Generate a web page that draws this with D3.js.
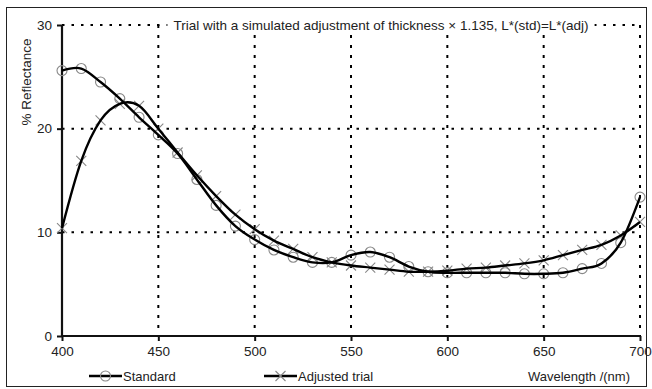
<!DOCTYPE html>
<html>
<head>
<meta charset="utf-8">
<script src="https://cdn.jsdelivr.net/npm/d3@7"></script>
<style>
  html, body { margin: 0; padding: 0; background: #fff; }
  svg { display: block; }
  text { font-family: "Liberation Sans", Arial, sans-serif; fill: #222; }
</style>
</head>
<body>
<svg id="chart" width="652" height="389"></svg>
<script>
const wavelengths = [400,410,420,430,440,450,460,470,480,490,500,510,520,530,540,550,560,570,580,590,600,610,620,630,640,650,660,670,680,690,700];
const standard = [25.6,25.8,24.5,22.9,21.1,19.4,17.6,15.1,12.6,10.6,9.3,8.3,7.6,7.1,7.1,7.8,8.1,7.6,6.7,6.2,6.1,6.1,6.1,6.1,6.0,6.0,6.1,6.5,7.0,9.0,13.4];
const adjusted = [10.4,16.9,20.8,22.4,22.2,20.0,17.7,15.5,13.5,11.7,10.3,9.2,8.4,7.6,7.1,6.8,6.6,6.4,6.2,6.2,6.3,6.5,6.6,6.8,7.0,7.3,7.8,8.3,8.8,9.7,11.0];
const xTicks = [400,450,500,550,600,650,700];
const yTicks = [0,10,20,30];
const seriesNames = ["Standard","Adjusted trial"];
const titleText = "Trial with a simulated adjustment of thickness \u00d7 1.135, L*(std)=L*(adj)";
const xTitle = "Wavelength /(nm)";
const yTitle = "% Reflectance";

const svg = d3.select("#chart");
const x = d3.scaleLinear().domain([400,700]).range([62,640]);
const y = d3.scaleLinear().domain([0,30]).range([336,25]);

// frame
svg.append("rect").attr("x",6.5).attr("y",7.5).attr("width",640).attr("height",379)
  .attr("fill","none").attr("stroke","#222").attr("stroke-width",1);

// grid
const grid = svg.append("g");
grid.selectAll(".hg").data(yTicks.filter(d=>d>0)).enter().append("line")
  .attr("x1",x(400)).attr("x2",x(700)).attr("y1",d=>y(d)).attr("y2",d=>y(d))
  .attr("stroke","#000").attr("stroke-width",2).attr("stroke-dasharray","2.5,7");
grid.selectAll(".vg").data(xTicks.filter(d=>d>400)).enter().append("line")
  .attr("x1",d=>x(d)).attr("x2",d=>x(d)).attr("y1",y(30)).attr("y2",y(0))
  .attr("stroke","#000").attr("stroke-width",2).attr("stroke-dasharray","3,7");

// title with white background
const tg = svg.append("g");
const tt = tg.append("text").attr("x",381).attr("y",29.5).attr("text-anchor","middle")
  .attr("font-size",13.5).text(titleText);
const bb = tt.node().getBBox();
tg.insert("rect","text").attr("x",bb.x-6).attr("y",bb.y-2).attr("width",bb.width+12).attr("height",bb.height+4).attr("fill","#fff");

// axes
const yAxis = svg.append("g").attr("transform",`translate(${x(400)},0)`)
  .call(d3.axisLeft(y).tickValues(yTicks).tickSize(5).tickPadding(5).tickFormat(d3.format("d")));
const xAxis = svg.append("g").attr("transform",`translate(0,${y(0)})`)
  .call(d3.axisBottom(x).tickValues(xTicks).tickSize(5).tickPadding(5).tickFormat(d3.format("d")));
[yAxis,xAxis].forEach(a=>{
  a.select(".domain").attr("stroke","#111").attr("stroke-width",2.2);
  a.selectAll(".tick line").attr("stroke","#111").attr("stroke-width",2);
  a.selectAll(".tick text").attr("font-size",13.5).attr("fill","#222")
    .attr("font-family","'Liberation Sans', Arial, sans-serif");
});
yAxis.select(".domain").attr("d",`M0,${y(30)}V${y(0)}`);
xAxis.select(".domain").attr("d",`M${x(400)},0H${x(700)}`);

// y title
svg.append("text").attr("transform","translate(31,82) rotate(-90)").attr("text-anchor","middle")
  .attr("font-size",13.5).text(yTitle);

// lines
const line = d3.line().x((d,i)=>x(wavelengths[i])).y(d=>y(d)).curve(d3.curveCardinal.tension(0));
const markColor = "#888";
function circleMark(g, cx, cy){
  g.append("circle").attr("cx",cx).attr("cy",cy).attr("r",5).attr("fill","none")
    .attr("stroke",markColor).attr("stroke-width",1.1);
}
function crossMark(g, cx, cy){
  const s=5;
  g.append("path").attr("d",`M${cx-s},${cy-s}L${cx+s},${cy+s}M${cx-s},${cy+s}L${cx+s},${cy-s}`)
    .attr("stroke",markColor).attr("stroke-width",1.1).attr("fill","none");
}
const mg = svg.append("g");
standard.forEach((v,i)=>circleMark(mg,x(wavelengths[i]),y(v)));
adjusted.forEach((v,i)=>crossMark(mg,x(wavelengths[i]),y(v)));
svg.append("path").datum(standard).attr("d",line).attr("fill","none").attr("stroke","#000").attr("stroke-width",2.4);
svg.append("path").datum(adjusted).attr("d",line).attr("fill","none").attr("stroke","#000").attr("stroke-width",2.4);

// legend
const lg = svg.append("g");
const legendItems = [{x0:89, name:seriesNames[0], mark:circleMark},{x0:264, name:seriesNames[1], mark:crossMark}];
legendItems.forEach(it=>{
  lg.append("line").attr("x1",it.x0).attr("x2",it.x0+33).attr("y1",376).attr("y2",376)
    .attr("stroke","#000").attr("stroke-width",2.4);
  it.mark(lg,it.x0+16.5,376);
  lg.append("text").attr("x",it.x0+34).attr("y",380.5).attr("font-size",13).text(it.name);
});
svg.append("text").attr("x",630).attr("y",380.5).attr("text-anchor","end").attr("font-size",13).text(xTitle);
</script>
</body>
</html>
